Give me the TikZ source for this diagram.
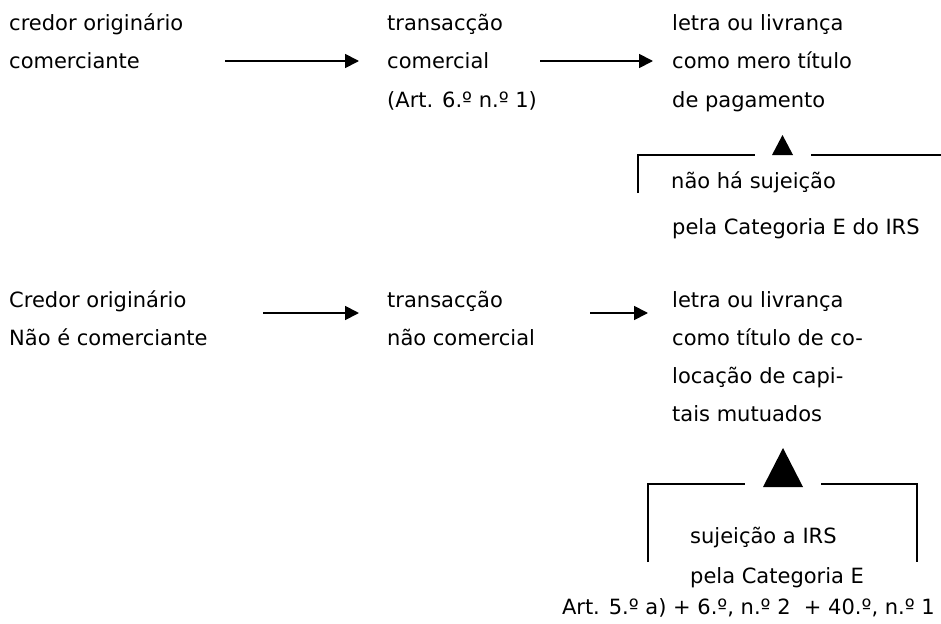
\documentclass[tikz,border=0pt]{standalone}
\usepackage{fontspec}
\setmainfont{DejaVu Sans}
\usetikzlibrary{arrows.meta}
\begin{document}
\begin{tikzpicture}[x=1pt,y=-1pt,
  txt/.style={anchor=base west,inner sep=0pt,font=\fontsize{21}{38}\selectfont},
  flow/.style={line width=1.8pt,-{Triangle[length=14pt,width=14pt]}},
  brk/.style={line width=1.6pt},
  tri/.style={fill=black,draw=none}]
\useasboundingbox (0,0) rectangle (941,623);
% row 1
\node[txt] (c1l1) at (9,31) {credor originário};
\node[txt] (c1l2) at (9,69) {comerciante};
\node[txt] (t1l1) at (387,31) {transacção};
\node[txt] (t1l2) at (387,69) {comercial};
\node[txt] (t1l3) at (387,107) {(Art. 6.º n.º 1)};
\node[txt] (l1l1) at (672,31) {letra ou livrança};
\node[txt] (l1l2) at (672,69) {como mero título};
\node[txt] (l1l3) at (672,107) {de pagamento};
\coordinate (a1s) at (225,61);
\coordinate (a1e) at (359,61);
\coordinate (a2s) at (540,61);
\coordinate (a2e) at (653,61);
\draw[flow] (a1s) -- (a1e);
\draw[flow] (a2s) -- (a2e);
% bracket 1
\coordinate (k1a) at (638,193);
\coordinate (k1b) at (638,155);
\coordinate (k1c) at (755,155);
\coordinate (k1d) at (811,155);
\coordinate (k1e) at (941,155);
\draw[brk] (k1a) -- (k1b) -- (k1c);
\draw[brk] (k1d) -- (k1e);
\coordinate (p1a) at (782.5,135);
\coordinate (p1b) at (793,155);
\coordinate (p1c) at (772,155);
\fill[tri] (p1a) -- (p1b) -- (p1c) -- cycle;
\node[txt] (n1l1) at (671,188) {não há sujeição};
\node[txt] (n1l2) at (672,234) {pela Categoria E do IRS};
% row 2
\node[txt] (c2l1) at (9,307) {Credor originário};
\node[txt] (c2l2) at (9,345) {Não é comerciante};
\node[txt] (t2l1) at (387,307) {transacção};
\node[txt] (t2l2) at (387,345) {não comercial};
\node[txt] (l2l1) at (672,307) {letra ou livrança};
\node[txt] (l2l2) at (672,345) {como título de co-};
\node[txt] (l2l3) at (672,383) {locação de capi-};
\node[txt] (l2l4) at (672,421) {tais mutuados};
\coordinate (b1s) at (263,313);
\coordinate (b1e) at (359,313);
\coordinate (b2s) at (590,313);
\coordinate (b2e) at (648,313);
\draw[flow] (b1s) -- (b1e);
\draw[flow] (b2s) -- (b2e);
% bracket 2
\coordinate (k2a) at (648,562);
\coordinate (k2b) at (648,484);
\coordinate (k2c) at (745,484);
\coordinate (k2d) at (821,484);
\coordinate (k2e) at (917,484);
\coordinate (k2f) at (917,562);
\draw[brk] (k2a) -- (k2b) -- (k2c);
\draw[brk] (k2d) -- (k2e) -- (k2f);
\coordinate (p2a) at (783,448);
\coordinate (p2b) at (803,487);
\coordinate (p2c) at (763,487);
\fill[tri] (p2a) -- (p2b) -- (p2c) -- cycle;
\node[txt] (s2l1) at (690,543) {sujeição a IRS};
\node[txt] (s2l2) at (690,583) {pela Categoria E};
\node[txt,anchor=base east] (s2l3) at (935,614) {Art. 5.º a) + 6.º, n.º 2\ \ + 40.º, n.º 1};
\end{tikzpicture}
\end{document}
